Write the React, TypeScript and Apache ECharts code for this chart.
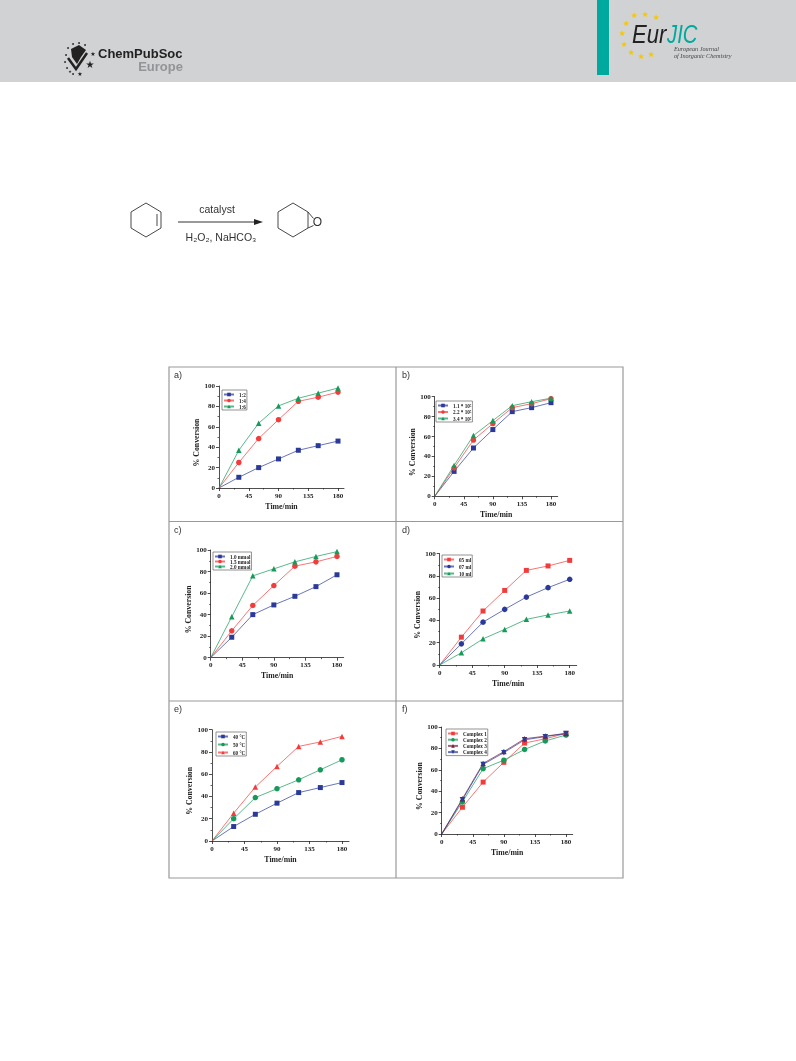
import React, { useEffect, useRef } from "react";
import * as echarts from "echarts";

const times = [0, 30, 60, 90, 120, 150, 180];
const xMajorTicks = [0, 45, 90, 135, 180];
const xMinorTicks = [22.5, 67.5, 112.5, 157.5];

const a1 = [0, 10.5, 20, 28.5, 37, 41.5, 46];
const a2 = [0, 25, 48.5, 67, 85, 89, 94];
const a3 = [0, 37, 63.5, 80.5, 88, 93, 98];
const b1 = [0, 25, 48.5, 67, 85, 89, 94];
const b2 = [0, 28.5, 56.5, 73, 89, 93, 98];
const b3 = [0, 31, 61, 76, 91, 95, 98.5];
const c1 = [0, 19, 40, 49, 57, 66, 77];
const c2 = [0, 25, 48.5, 67, 85, 89, 94];
const c3 = [0, 38, 76, 82.5, 89, 94, 98.5];
const d1 = [0, 25, 48.5, 67, 85, 89, 94];
const d2 = [0, 19, 38.5, 50, 61, 69.5, 77];
const d3 = [0, 11, 23.5, 32, 41, 45, 48.5];
const e1 = [0, 13, 24, 34, 43.5, 48, 52.5];
const e2 = [0, 20, 39, 47, 55, 64, 73];
const e3 = [0, 25, 48.5, 67, 85, 89, 94];
const f1 = [0, 25, 48.5, 67, 85, 89, 94];
const f2 = [0, 30, 61, 69, 79, 87, 92.5];
const f3 = [0, 33, 66, 77, 89, 91.5, 94];
const f4 = [0, 32, 65, 76, 88, 91, 94];

const BLUE = "#2b3a98";
const RED = "#f23c3c";
const GREEN = "#169a5a";
const MAROON = "#7a1f3d";
const SERIF = "'Liberation Serif', serif";
const SANS = "'Liberation Sans', sans-serif";

type S = { name: string; data: number[]; color: string; symbol: string; rotate?: number };
type P = {
  label: string; labelX: number; labelY: number;
  x0: number; x180: number; xEnd: number; y0: number; y100: number; yTitleX: number;
  legendX: number; legendY: number; legendW: number; legendGap: number; series: S[];
};

const panels: P[] = [
  { label: "a)", labelX: 174, labelY: 375, x0: 219, x180: 338, xEnd: 344, y0: 488, y100: 386, yTitleX: 200, legendX: 222, legendY: 390, legendW: 23, legendGap: 1,
    series: [
      { name: "1:2", data: a1, color: BLUE, symbol: "rect" },
      { name: "1:4", data: a2, color: RED, symbol: "circle" },
      { name: "1:6", data: a3, color: GREEN, symbol: "triangle" },
    ] },
  { label: "b)", labelX: 402, labelY: 375, x0: 434.7, x180: 551, xEnd: 557.7, y0: 496.3, y100: 396.7, yTitleX: 415, legendX: 436, legendY: 401, legendW: 36, legendGap: 1.5,
    series: [
      { name: "1.1 * 10⁵", data: b1, color: BLUE, symbol: "rect" },
      { name: "2.2 * 10⁵", data: b2, color: RED, symbol: "circle" },
      { name: "3.4 * 10⁵", data: b3, color: GREEN, symbol: "triangle" },
    ] },
  { label: "c)", labelX: 174, labelY: 530, x0: 210.7, x180: 337, xEnd: 343.7, y0: 657.7, y100: 550, yTitleX: 189.7, legendX: 213, legendY: 552, legendW: 37, legendGap: 0,
    series: [
      { name: "1.0 mmol", data: c1, color: BLUE, symbol: "rect" },
      { name: "1.5 mmol", data: c2, color: RED, symbol: "circle" },
      { name: "2.0 mmol", data: c3, color: GREEN, symbol: "triangle" },
    ] },
  { label: "d)", labelX: 402, labelY: 530, x0: 439.7, x180: 569.7, xEnd: 576.7, y0: 665, y100: 553.7, yTitleX: 417.7, legendX: 442, legendY: 555, legendW: 32, legendGap: 2,
    series: [
      { name: "05 ml", data: d1, color: RED, symbol: "rect" },
      { name: "07 ml", data: d2, color: BLUE, symbol: "circle" },
      { name: "10 ml", data: d3, color: GREEN, symbol: "triangle" },
    ] },
  { label: "e)", labelX: 174, labelY: 709, x0: 212, x180: 342, xEnd: 349, y0: 841, y100: 729.7, yTitleX: 189.7, legendX: 216, legendY: 732, legendW: 30, legendGap: 3,
    series: [
      { name: "40 °C", data: e1, color: BLUE, symbol: "rect" },
      { name: "50 °C", data: e2, color: GREEN, symbol: "circle" },
      { name: "60 °C", data: e3, color: RED, symbol: "triangle" },
    ] },
  { label: "f)", labelX: 402, labelY: 709, x0: 441.7, x180: 566, xEnd: 572.7, y0: 834, y100: 727, yTitleX: 420, legendX: 446, legendY: 729, legendW: 45, legendGap: 1.2,
    series: [
      { name: "Complex 1", data: f1, color: RED, symbol: "rect" },
      { name: "Complex 2", data: f2, color: GREEN, symbol: "circle" },
      { name: "Complex 3", data: f3, color: MAROON, symbol: "triangle" },
      { name: "Complex 4", data: f4, color: BLUE, symbol: "triangle", rotate: 180 },
    ] },
];

const headerStars = [[634, 15], [645, 14], [656, 17], [626, 23], [622, 33], [624, 44], [631, 52], [641, 56], [651, 54]];
const logoStars = [[93, 53, 6], [90, 64, 10], [80, 73, 6], [70, 71, 4]];
const logoDots = [[68, 48], [73, 44], [79, 43], [85, 45], [66, 55], [65, 62], [67, 68], [73, 74]];

const ink = "#222";

function buildOption() {
  const grid: any[] = [];
  const xAxis: any[] = [];
  const yAxis: any[] = [];
  const series: any[] = [];
  const legend: any[] = [];
  const graphic: any[] = [];

  // page header
  graphic.push({ type: "rect", shape: { x: 0, y: 0, width: 796, height: 82 }, style: { fill: "#d1d2d4" } });
  graphic.push({ type: "rect", shape: { x: 597, y: 0, width: 12, height: 75 }, style: { fill: "#00a99d" } });

  // ChemPubSoc mark
  graphic.push({ type: "polygon", shape: { points: [[71, 49], [79, 45], [86, 50], [81, 57], [77, 64], [72, 57]] }, style: { fill: "#222" } });
  graphic.push({ type: "polyline", shape: { points: [[68, 58], [76, 69], [87, 53]] }, style: { stroke: "#222", lineWidth: 2.5, fill: "none" } });
  logoDots.forEach(([cx, cy]) => graphic.push({ type: "circle", shape: { cx, cy, r: 0.9 }, style: { fill: "#222" } }));
  logoStars.forEach(([x, y, s]) =>
    graphic.push({ type: "text", x, y, style: { text: "★", font: `${s}px 'DejaVu Sans'`, fill: "#222", align: "center", verticalAlign: "middle" } })
  );
  graphic.push({ type: "text", x: 98, y: 53, style: { text: "ChemPubSoc", font: `bold 13px ${SANS}`, fill: "#222", verticalAlign: "middle" } });
  graphic.push({ type: "text", x: 183, y: 66, style: { text: "Europe", font: `bold 13px ${SANS}`, fill: "#929497", align: "right", verticalAlign: "middle" } });

  // EurJIC mark
  graphic.push({ type: "text", x: 632, y: 34, scaleX: 0.85, style: { text: "Eur", font: `italic 26px ${SANS}`, fill: "#222", verticalAlign: "middle" } });
  graphic.push({ type: "text", x: 667, y: 34, scaleX: 0.78, style: { text: "JIC", font: `italic 26px ${SANS}`, fill: "#00a99d", verticalAlign: "middle" } });
  graphic.push({ type: "text", x: 674, y: 48, style: { text: "European Journal", font: `italic 6.2px ${SERIF}`, fill: "#444", verticalAlign: "middle" } });
  graphic.push({ type: "text", x: 674, y: 55, style: { text: "of Inorganic Chemistry", font: `italic 6.2px ${SERIF}`, fill: "#444", verticalAlign: "middle" } });
  headerStars.forEach(([x, y]) =>
    graphic.push({ type: "text", x, y, style: { text: "★", font: `8px 'DejaVu Sans'`, fill: "#f6c700", align: "center", verticalAlign: "middle" } })
  );

  // reaction scheme
  const stroke = { stroke: "#333", lineWidth: 0.9, fill: "none" };
  graphic.push({ type: "polygon", shape: { points: [[146, 203], [161, 212], [161, 228], [146, 237], [131, 228], [131, 212]] }, style: stroke });
  graphic.push({ type: "line", shape: { x1: 157, y1: 214, x2: 157, y2: 226 }, style: stroke });
  graphic.push({ type: "line", shape: { x1: 178, y1: 222, x2: 256, y2: 222 }, style: { stroke: "#333", lineWidth: 1 } });
  graphic.push({ type: "polygon", shape: { points: [[254, 219], [263, 222], [254, 225]] }, style: { fill: "#222" } });
  graphic.push({ type: "text", x: 217, y: 209, style: { text: "catalyst", font: `10.5px ${SANS}`, fill: "#333", align: "center", verticalAlign: "middle" } });
  graphic.push({ type: "text", x: 221, y: 237, style: { text: "H₂O₂, NaHCO₃", font: `10.5px ${SANS}`, fill: "#333", align: "center", verticalAlign: "middle" } });
  graphic.push({ type: "polygon", shape: { points: [[293, 203], [308, 212], [308, 228], [293, 237], [278, 228], [278, 212]] }, style: stroke });
  graphic.push({ type: "polyline", shape: { points: [[308, 212], [313.5, 218.5]] }, style: stroke });
  graphic.push({ type: "polyline", shape: { points: [[308, 228], [313.5, 225.5]] }, style: stroke });
  graphic.push({ type: "text", x: 317.5, y: 222, style: { text: "O", font: `12px ${SANS}`, fill: "#333", align: "center", verticalAlign: "middle" } });

  // table frame
  const frame = { stroke: "#999", lineWidth: 1.2 };
  graphic.push({ type: "rect", shape: { x: 169, y: 367, width: 454, height: 511 }, style: { ...frame, fill: "none" } });
  graphic.push({ type: "line", shape: { x1: 396, y1: 367, x2: 396, y2: 878 }, style: frame });
  graphic.push({ type: "line", shape: { x1: 169, y1: 521.5, x2: 623, y2: 521.5 }, style: frame });
  graphic.push({ type: "line", shape: { x1: 169, y1: 701, x2: 623, y2: 701 }, style: frame });

  panels.forEach((p, i) => {
    graphic.push({ type: "text", x: p.labelX, y: p.labelY, style: { text: p.label, font: `9px ${SANS}`, fill: "#333", align: "left", verticalAlign: "middle" } });
    const pxPerUnit = (p.x180 - p.x0) / 180;
    const xMax = (p.xEnd - p.x0) / pxPerUnit;
    grid.push({ left: p.x0, width: p.xEnd - p.x0, top: p.y100, height: p.y0 - p.y100 });
    const xMain = xAxis.length;
    xAxis.push({
      type: "value", gridIndex: i, min: 0, max: xMax, interval: 45, position: "bottom",
      name: "Time/min", nameLocation: "middle", nameGap: 14,
      nameTextStyle: { fontFamily: SERIF, fontWeight: "bold", fontSize: 7.8, color: ink },
      splitLine: { show: false },
      axisLine: { show: true, onZero: false, lineStyle: { color: ink, width: 0.8 } },
      axisTick: { show: true, customValues: xMajorTicks, length: 3, inside: false, lineStyle: { color: ink, width: 0.8 } },
      axisLabel: { customValues: xMajorTicks, margin: 4, fontFamily: SERIF, fontWeight: "bold", fontSize: 7, color: ink, formatter: (v: number) => String(v) },
    });
    xAxis.push({
      type: "value", gridIndex: i, min: 0, max: xMax, interval: 45, position: "bottom",
      splitLine: { show: false }, axisLine: { show: false },
      axisTick: { show: true, customValues: xMinorTicks, length: 1.5, lineStyle: { color: ink, width: 0.7 } },
      axisLabel: { show: false },
    });
    yAxis.push({
      type: "value", gridIndex: i, min: 0, max: 100, interval: 20,
      name: "% Conversion", nameLocation: "middle", nameGap: p.x0 - p.yTitleX - 4, nameRotate: 90,
      nameTextStyle: { fontFamily: SERIF, fontWeight: "bold", fontSize: 7.8, color: ink, padding: [0, 11, 0, 0] },
      splitLine: { show: false },
      axisLine: { show: true, onZero: false, lineStyle: { color: ink, width: 0.8 } },
      axisTick: { show: true, length: 3, lineStyle: { color: ink, width: 0.8 } },
      minorTick: { show: true, splitNumber: 2, length: 1.5, lineStyle: { color: ink, width: 0.7 } },
      minorSplitLine: { show: false },
      axisLabel: { margin: 4, fontFamily: SERIF, fontWeight: "bold", fontSize: 7, color: ink },
    });
    p.series.forEach((s) => {
      series.push({
        type: "line", name: s.name, xAxisIndex: xMain, yAxisIndex: i,
        data: times.map((t, k) => (k === 0 ? { value: [t, s.data[k]], symbol: "none" } : [t, s.data[k]])),
        symbol: s.symbol, symbolSize: s.symbol === "rect" ? 5 : 5.5, symbolRotate: s.rotate ?? 0,
        showSymbol: true, clip: false,
        lineStyle: { color: s.color, width: 1, opacity: 0.7 },
        itemStyle: { color: s.color },
      });
    });
    legend.push({
      orient: "vertical", left: p.legendX, top: p.legendY,
      data: p.series.map((s) => s.name), selectedMode: false,
      itemWidth: 10, itemHeight: 4.5, itemGap: p.legendGap, padding: [2, 1, 1, 1],
      borderColor: "#666", borderWidth: 0.7, backgroundColor: "#fff",
      textStyle: { fontFamily: SERIF, fontWeight: "bold", fontSize: 5.2, color: ink, width: p.legendW - 17, overflow: "none" },
    });
  });

  return { animation: false, backgroundColor: "#fff", grid, xAxis, yAxis, series, legend, graphic: { elements: graphic } };
}

export default function App() {
  const ref = useRef<HTMLDivElement>(null);
  useEffect(() => {
    document.body.style.margin = "0";
    const chart = echarts.init(ref.current!, undefined, { renderer: "svg" });
    chart.setOption(buildOption());
    return () => chart.dispose();
  }, []);
  return <div ref={ref} style={{ width: 796, height: 1061, filter: "blur(0.45px)" }} />;
}
